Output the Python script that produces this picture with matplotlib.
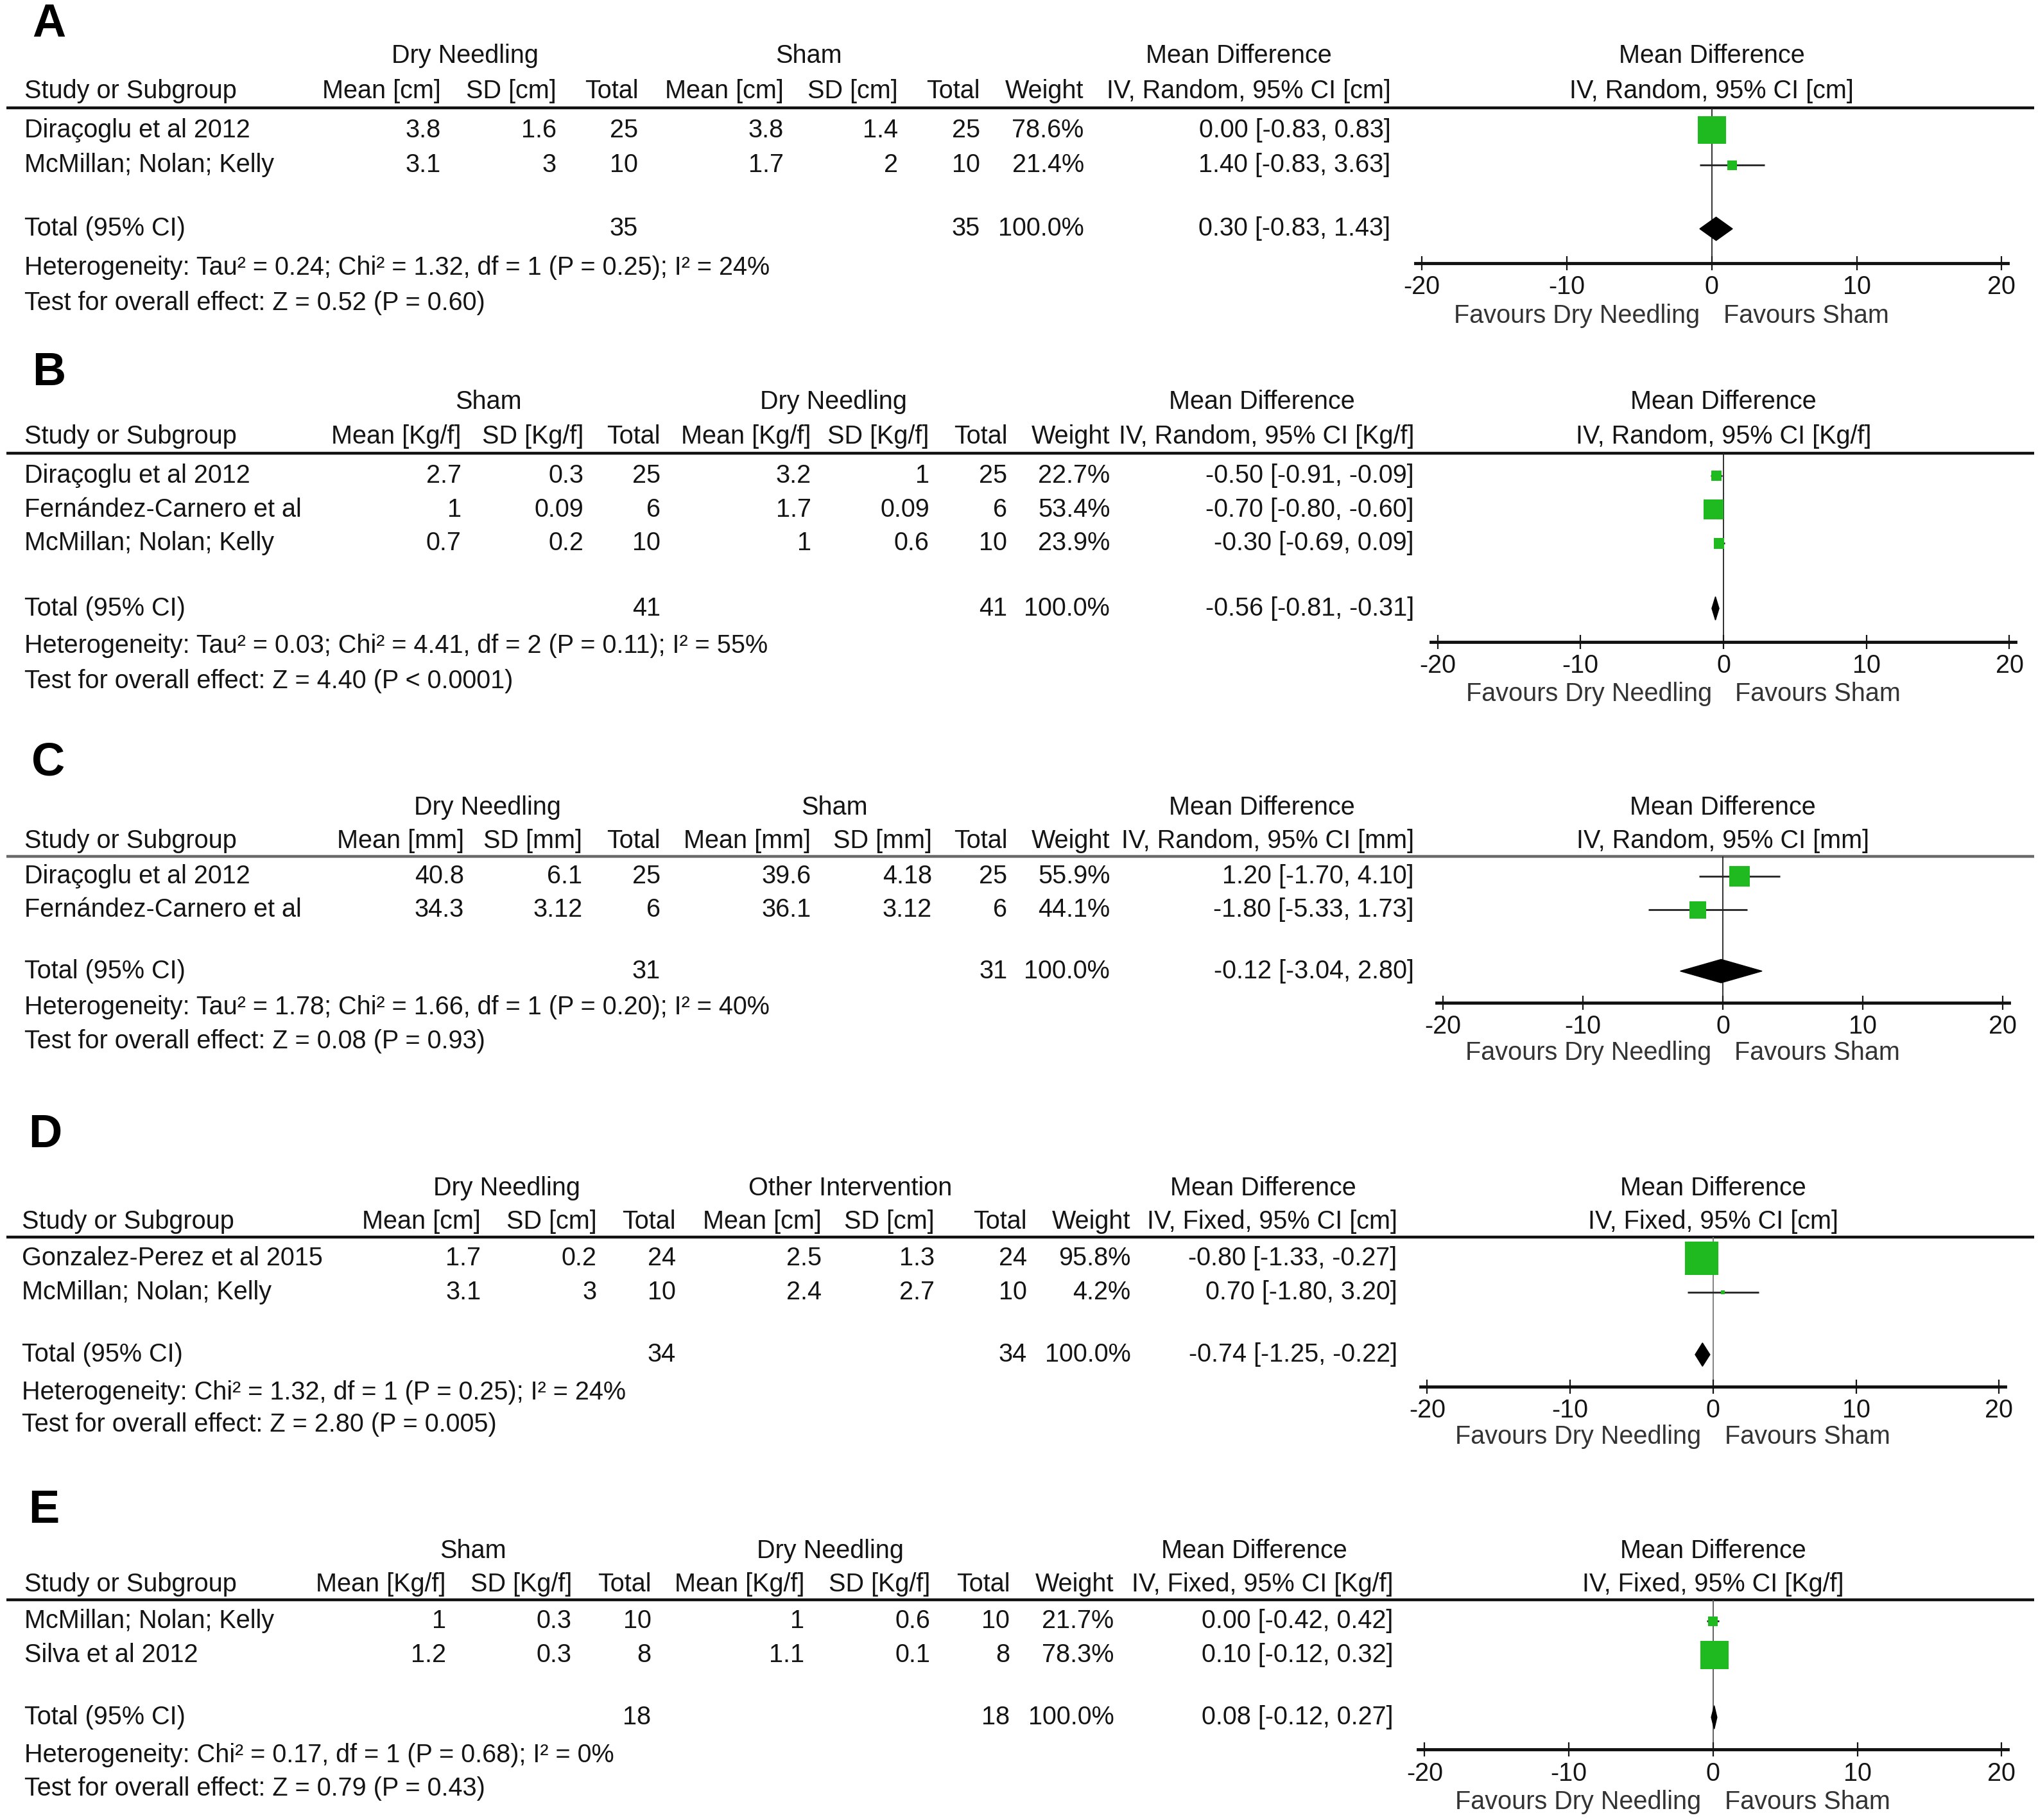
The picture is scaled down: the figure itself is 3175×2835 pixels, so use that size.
import matplotlib
matplotlib.use("Agg")
import matplotlib.pyplot as plt
from matplotlib import font_manager


# forest plots A-E, dry needling meta-analysis (RevMan style)

# ---- panel A ----
a_studies = ["Diraçoglu et al 2012", "McMillan; Nolan; Kelly"]
a_g1_mean = [3.8, 3.1]
a_g1_sd = [1.6, 3]
a_g1_n = [25, 10]
a_g2_mean = [3.8, 1.7]
a_g2_sd = [1.4, 2]
a_g2_n = [25, 10]
a_weight = [78.6, 21.4]
a_md = [0.00, 1.40]
a_lo = [-0.83, -0.83]
a_hi = [0.83, 3.63]
a_total = [35, 35, 0.30, -0.83, 1.43]
a_het = "Heterogeneity: Tau² = 0.24; Chi² = 1.32, df = 1 (P = 0.25); I² = 24%"
a_test = "Test for overall effect: Z = 0.52 (P = 0.60)"

# ---- panel B ----
b_studies = ["Diraçoglu et al 2012", "Fernández-Carnero et al", "McMillan; Nolan; Kelly"]
b_g1_mean = [2.7, 1, 0.7]
b_g1_sd = [0.3, 0.09, 0.2]
b_g1_n = [25, 6, 10]
b_g2_mean = [3.2, 1.7, 1]
b_g2_sd = [1, 0.09, 0.6]
b_g2_n = [25, 6, 10]
b_weight = [22.7, 53.4, 23.9]
b_md = [-0.50, -0.70, -0.30]
b_lo = [-0.91, -0.80, -0.69]
b_hi = [-0.09, -0.60, 0.09]
b_total = [41, 41, -0.56, -0.81, -0.31]
b_het = "Heterogeneity: Tau² = 0.03; Chi² = 4.41, df = 2 (P = 0.11); I² = 55%"
b_test = "Test for overall effect: Z = 4.40 (P < 0.0001)"

# ---- panel C ----
c_studies = ["Diraçoglu et al 2012", "Fernández-Carnero et al"]
c_g1_mean = [40.8, 34.3]
c_g1_sd = [6.1, 3.12]
c_g1_n = [25, 6]
c_g2_mean = [39.6, 36.1]
c_g2_sd = [4.18, 3.12]
c_g2_n = [25, 6]
c_weight = [55.9, 44.1]
c_md = [1.20, -1.80]
c_lo = [-1.70, -5.33]
c_hi = [4.10, 1.73]
c_total = [31, 31, -0.12, -3.04, 2.80]
c_het = "Heterogeneity: Tau² = 1.78; Chi² = 1.66, df = 1 (P = 0.20); I² = 40%"
c_test = "Test for overall effect: Z = 0.08 (P = 0.93)"

# ---- panel D ----
d_studies = ["Gonzalez-Perez et al 2015", "McMillan; Nolan; Kelly"]
d_g1_mean = [1.7, 3.1]
d_g1_sd = [0.2, 3]
d_g1_n = [24, 10]
d_g2_mean = [2.5, 2.4]
d_g2_sd = [1.3, 2.7]
d_g2_n = [24, 10]
d_weight = [95.8, 4.2]
d_md = [-0.80, 0.70]
d_lo = [-1.33, -1.80]
d_hi = [-0.27, 3.20]
d_total = [34, 34, -0.74, -1.25, -0.22]
d_het = "Heterogeneity: Chi² = 1.32, df = 1 (P = 0.25); I² = 24%"
d_test = "Test for overall effect: Z = 2.80 (P = 0.005)"

# ---- panel E ----
e_studies = ["McMillan; Nolan; Kelly", "Silva et al 2012"]
e_g1_mean = [1, 1.2]
e_g1_sd = [0.3, 0.3]
e_g1_n = [10, 8]
e_g2_mean = [1, 1.1]
e_g2_sd = [0.6, 0.1]
e_g2_n = [10, 8]
e_weight = [21.7, 78.3]
e_md = [0.00, 0.10]
e_lo = [-0.42, -0.12]
e_hi = [0.42, 0.32]
e_total = [18, 18, 0.08, -0.12, 0.27]
e_het = "Heterogeneity: Chi² = 0.17, df = 1 (P = 0.68); I² = 0%"
e_test = "Test for overall effect: Z = 0.79 (P = 0.43)"

xticks = [-20, -10, 0, 10, 20]

panels = [
    dict(letter="A", groups=["Dry Needling", "Sham"], unit="cm", model="Random",
         studies=a_studies, g1=(a_g1_mean, a_g1_sd, a_g1_n), g2=(a_g2_mean, a_g2_sd, a_g2_n),
         weight=a_weight, md=a_md, lo=a_lo, hi=a_hi, total=a_total, het=a_het, test=a_test,
         # layout (in 1568x1400 reference units)
         lx=25, ly=19, gy=43, cy=70, line=82.8, rows=[100, 127], ty=176, hy=206, zy=233,
         xleft=19, cols=[339, 428, 491, 603, 691, 754, 834, 1070], gx=[358, 622, 953],
         ax0=1094, ax1=1540, axy=202.4, fy=243, lcol="#111111", zcol="#222222"),
    dict(letter="B", groups=["Sham", "Dry Needling"], unit="Kg/f", model="Random",
         studies=b_studies, g1=(b_g1_mean, b_g1_sd, b_g1_n), g2=(b_g2_mean, b_g2_sd, b_g2_n),
         weight=b_weight, md=b_md, lo=b_lo, hi=b_hi, total=b_total, het=b_het, test=b_test,
         lx=25, ly=287, gy=309, cy=336, line=348.8, rows=[366, 392, 418], ty=468, hy=497, zy=524,
         xleft=19, cols=[355, 449, 508, 624, 715, 775, 854, 1088], gx=[376, 641, 971],
         ax0=1106, ax1=1546, axy=493.6, fy=534, lcol="#111111", zcol="#222222"),
    dict(letter="C", groups=["Dry Needling", "Sham"], unit="mm", model="Random",
         studies=c_studies, g1=(c_g1_mean, c_g1_sd, c_g1_n), g2=(c_g2_mean, c_g2_sd, c_g2_n),
         weight=c_weight, md=c_md, lo=c_lo, hi=c_hi, total=c_total, het=c_het, test=c_test,
         lx=24, ly=587, gy=621, cy=647, line=658.9, rows=[674, 700], ty=747, hy=775, zy=801,
         xleft=19, cols=[357, 448, 508, 624, 717, 775, 854, 1088], gx=[375, 642, 971],
         ax0=1110, ax1=1541, axy=771.5, fy=810, lcol="#6a6a6a", zcol="#222222"),
    dict(letter="D", groups=["Dry Needling", "Other Intervention"], unit="cm", model="Fixed",
         studies=d_studies, g1=(d_g1_mean, d_g1_sd, d_g1_n), g2=(d_g2_mean, d_g2_sd, d_g2_n),
         weight=d_weight, md=d_md, lo=d_lo, hi=d_hi, total=d_total, het=d_het, test=d_test,
         lx=22, ly=873, gy=914, cy=940, line=951.5, rows=[968, 994], ty=1042, hy=1071, zy=1096,
         xleft=17, cols=[370, 459, 520, 632, 719, 790, 870, 1075], gx=[390, 654, 972],
         ax0=1098, ax1=1538, axy=1066.6, fy=1105, lcol="#111111", zcol="#777777"),
    dict(letter="E", groups=["Sham", "Dry Needling"], unit="Kg/f", model="Fixed",
         studies=e_studies, g1=(e_g1_mean, e_g1_sd, e_g1_n), g2=(e_g2_mean, e_g2_sd, e_g2_n),
         weight=e_weight, md=e_md, lo=e_lo, hi=e_hi, total=e_total, het=e_het, test=e_test,
         lx=22, ly=1162, gy=1193, cy=1219, line=1230.5, rows=[1247, 1273], ty=1321, hy=1350, zy=1376,
         xleft=19, cols=[343, 440, 501, 619, 716, 777, 857, 1072], gx=[364, 639, 965],
         ax0=1096, ax1=1540, axy=1345.9, fy=1386, lcol="#111111", zcol="#555555"),
]

W, H = 1568.0, 1400.0
S = 3175.0 / W          # full pixels per reference unit
DPI = 100
PT = S * 72.0 / DPI     # points per reference unit

names = {f.name for f in font_manager.fontManager.ttflist}
family = "Liberation Sans" if "Liberation Sans" in names else "DejaVu Sans"
plt.rcParams["font.family"] = [family, "DejaVu Sans"]
plt.rcParams["axes.unicode_minus"] = False

FS = 28.5
TXT = "#141414"
GREEN = "#1fba1f"

fig = plt.figure(figsize=(31.75, 28.35), dpi=DPI)
canvas = fig.add_axes([0, 0, 1, 1])
canvas.set_xlim(0, W)
canvas.set_ylim(H, 0)
canvas.axis("off")


def num(v):
    return f"{v:g}"


def ci(md, lo, hi):
    return f"{md:.2f} [{lo:.2f}, {hi:.2f}]"


for p in panels:
    cols = p["cols"]
    u = p["unit"]
    # panel letter
    canvas.text(p["lx"], p["ly"], p["letter"], fontsize=52, fontweight="bold",
                ha="left", va="center", color="#000000")
    # group headers
    canvas.text(p["gx"][0], p["gy"], p["groups"][0], fontsize=FS, ha="center", va="center", color=TXT)
    canvas.text(p["gx"][1], p["gy"], p["groups"][1], fontsize=FS, ha="center", va="center", color=TXT)
    canvas.text(p["gx"][2], p["gy"], "Mean Difference", fontsize=FS, ha="center", va="center", color=TXT)
    # column headers
    heads = [f"Mean [{u}]", f"SD [{u}]", "Total", f"Mean [{u}]", f"SD [{u}]", "Total",
             "Weight", f"IV, {p['model']}, 95% CI [{u}]"]
    canvas.text(p["xleft"], p["cy"], "Study or Subgroup", fontsize=FS, ha="left", va="center", color=TXT)
    for x, h in zip(cols, heads):
        canvas.text(x, p["cy"], h, fontsize=FS, ha="right", va="center", color=TXT)
    # rule under header
    canvas.plot([5, 1565], [p["line"], p["line"]], color=p["lcol"], lw=2.2 * PT, solid_capstyle="butt")

    # study rows
    for i, y in enumerate(p["rows"]):
        vals = [num(p["g1"][0][i]), num(p["g1"][1][i]), num(p["g1"][2][i]),
                num(p["g2"][0][i]), num(p["g2"][1][i]), num(p["g2"][2][i]),
                f"{p['weight'][i]:.1f}%", ci(p["md"][i], p["lo"][i], p["hi"][i])]
        canvas.text(p["xleft"], y, p["studies"][i], fontsize=FS, ha="left", va="center", color=TXT)
        for x, v in zip(cols, vals):
            canvas.text(x, y, v, fontsize=FS, ha="right", va="center", color=TXT)

    # total row
    t = p["total"]
    canvas.text(p["xleft"], p["ty"], "Total (95% CI)", fontsize=FS, ha="left", va="center", color=TXT)
    canvas.text(cols[2], p["ty"], str(t[0]), fontsize=FS, ha="right", va="center", color=TXT)
    canvas.text(cols[5], p["ty"], str(t[1]), fontsize=FS, ha="right", va="center", color=TXT)
    canvas.text(cols[6], p["ty"], "100.0%", fontsize=FS, ha="right", va="center", color=TXT)
    canvas.text(cols[7], p["ty"], ci(t[2], t[3], t[4]), fontsize=FS, ha="right", va="center", color=TXT)
    canvas.text(p["xleft"], p["hy"], p["het"], fontsize=FS, ha="left", va="center", color=TXT)
    canvas.text(p["xleft"], p["zy"], p["test"], fontsize=FS, ha="left", va="center", color=TXT)

    # forest axes
    ppu = (p["ax1"] - p["ax0"]) / 40.0
    ext = 0.45
    left = p["ax0"] - ext * ppu
    width = (p["ax1"] - p["ax0"]) + 2 * ext * ppu
    ax = fig.add_axes([left / W, 1 - p["axy"] / H, width / W, (p["axy"] - p["line"]) / H])
    ax.set_facecolor("none")
    ax.set_xlim(-20 - ext, 20 + ext)
    ax.set_ylim(p["axy"], p["line"])
    for s in ["top", "left", "right"]:
        ax.spines[s].set_visible(False)
    ax.spines["bottom"].set_linewidth(2.4 * PT)
    ax.spines["bottom"].set_color("#111111")
    ax.set_yticks([])
    ax.set_xticks(xticks)
    ax.set_xticklabels([str(v) for v in xticks])
    ax.tick_params(axis="x", direction="inout", length=11 * PT, width=1.1 * PT,
                   labelsize=FS, pad=5, colors="#141414")

    ax.axvline(0, color=p["zcol"], lw=0.9 * PT, zorder=1)
    ax.hlines(p["rows"], p["lo"], p["hi"], color="#262626", lw=1.4 * PT, zorder=2)
    sizes = [((2.0 + 0.25 * w) * PT) ** 2 for w in p["weight"]]
    ax.scatter(p["md"], p["rows"], marker="s", s=sizes, color=GREEN, linewidths=0,
               zorder=3, clip_on=False)
    hh = 9.0
    ax.fill([t[3], t[2], t[4], t[2]], [p["ty"], p["ty"] - hh, p["ty"], p["ty"] + hh],
            color="#000000", zorder=4, clip_on=False)

    # forest header and favour labels
    x0 = (p["ax0"] + p["ax1"]) / 2.0
    canvas.text(x0, p["gy"], "Mean Difference", fontsize=FS, ha="center", va="center", color=TXT)
    canvas.text(x0, p["cy"], f"IV, {p['model']}, 95% CI [{u}]", fontsize=FS,
                ha="center", va="center", color=TXT)
    canvas.text(x0 - 9, p["fy"], "Favours Dry Needling", fontsize=FS, ha="right", va="center", color="#333333")
    canvas.text(x0 + 9, p["fy"], "Favours Sham", fontsize=FS, ha="left", va="center", color="#333333")

fig.savefig("out.png", dpi=DPI, facecolor="white")
